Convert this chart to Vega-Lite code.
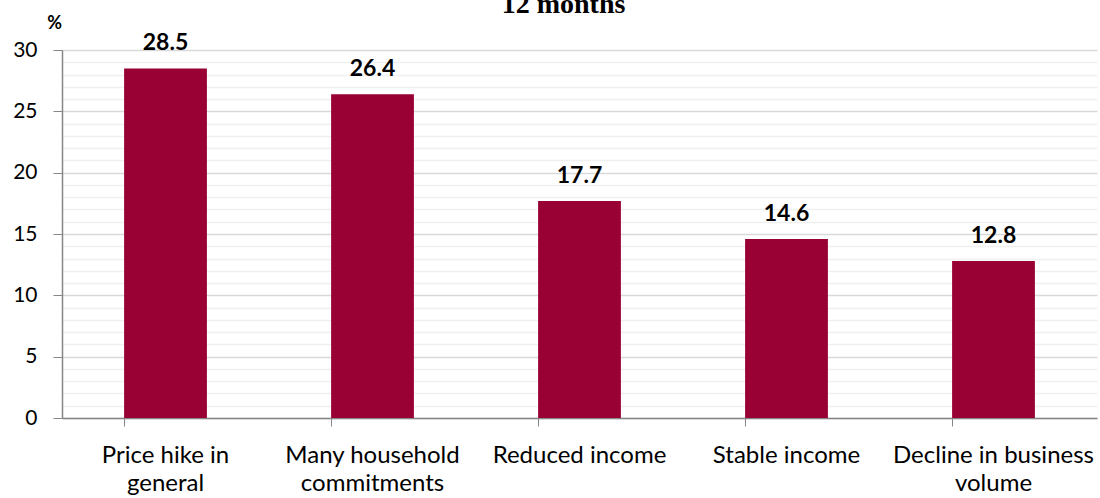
{
  "$schema": "https://vega.github.io/schema/vega-lite/v6.json",
  "width": 1035,
  "height": 368,
  "autosize": {"type": "none"},
  "padding": {"left": 62, "top": 50, "right": 3, "bottom": 80},
  "background": "white",
  "title": {
    "text": "12 months",
    "font": "Liberation Serif",
    "fontSize": 28,
    "fontWeight": "bold",
    "color": "#000000",
    "anchor": "middle",
    "frame": "group",
    "baseline": "alphabetic",
    "dx": -16,
    "offset": -27
  },
  "data": {
    "values": [
      {"reason": "Price hike in|general", "pct": 28.5},
      {"reason": "Many household|commitments", "pct": 26.4},
      {"reason": "Reduced income", "pct": 17.7},
      {"reason": "Stable income", "pct": 14.6},
      {"reason": "Decline in business|volume", "pct": 12.8}
    ]
  },
  "encoding": {
    "x": {
      "field": "reason",
      "type": "nominal",
      "sort": null,
      "scale": {"paddingInner": 0.6, "paddingOuter": 0.3},
      "axis": {
        "title": null,
        "labelAngle": 0,
        "labelExpr": "split(datum.value, '|')",
        "labelFont": "Lato",
        "labelFontSize": 24,
        "labelColor": "#000000",
        "labelLineHeight": 28,
        "labelBaseline": "top",
        "labelPadding": 17,
        "labelLimit": 0,
        "bandPosition": 0,
        "tickSize": 8,
        "tickColor": "#868686",
        "domainColor": "#868686",
        "domainWidth": 1.5,
        "grid": false
      }
    },
    "y": {
      "field": "pct",
      "type": "quantitative",
      "scale": {"domain": [0, 30], "nice": false},
      "axis": {
        "title": "%",
        "titleAngle": 0,
        "titleFont": "Lato",
        "titleFontSize": 18,
        "titleFontWeight": "bold",
        "titleColor": "#000000",
        "titleX": -8,
        "titleY": -22,
        "titleAlign": "center",
        "titleBaseline": "alphabetic",
        "values": [0,1,2,3,4,5,6,7,8,9,10,11,12,13,14,15,16,17,18,19,20,21,22,23,24,25,26,27,28,29,30],
        "labelExpr": "datum.value % 5 === 0 ? datum.label : ''",
        "labelFont": "Lato",
        "labelFontSize": 21,
        "labelColor": "#000000",
        "labelPadding": 16,
        "tickSize": 9,
        "tickColor": "#868686",
        "tickOpacity": {"condition": {"test": "datum.value % 5 === 0", "value": 1}, "value": 0},
        "domainColor": "#868686",
        "domainWidth": 1.5,
        "grid": true,
        "gridColor": {"condition": {"test": "datum.value % 5 === 0", "value": "#d9d9d9"}, "value": "#f0f0f0"},
        "gridWidth": 1.5
      }
    }
  },
  "layer": [
    {"mark": {"type": "bar", "color": "#990033"}},
    {
      "mark": {
        "type": "text",
        "font": "Lato",
        "fontSize": 23,
        "fontWeight": "bold",
        "color": "#000000",
        "baseline": "alphabetic",
        "dy": -18
      },
      "encoding": {
        "text": {"field": "pct", "type": "quantitative", "format": ".1f"}
      }
    }
  ],
  "config": {"view": {"stroke": null}}
}
